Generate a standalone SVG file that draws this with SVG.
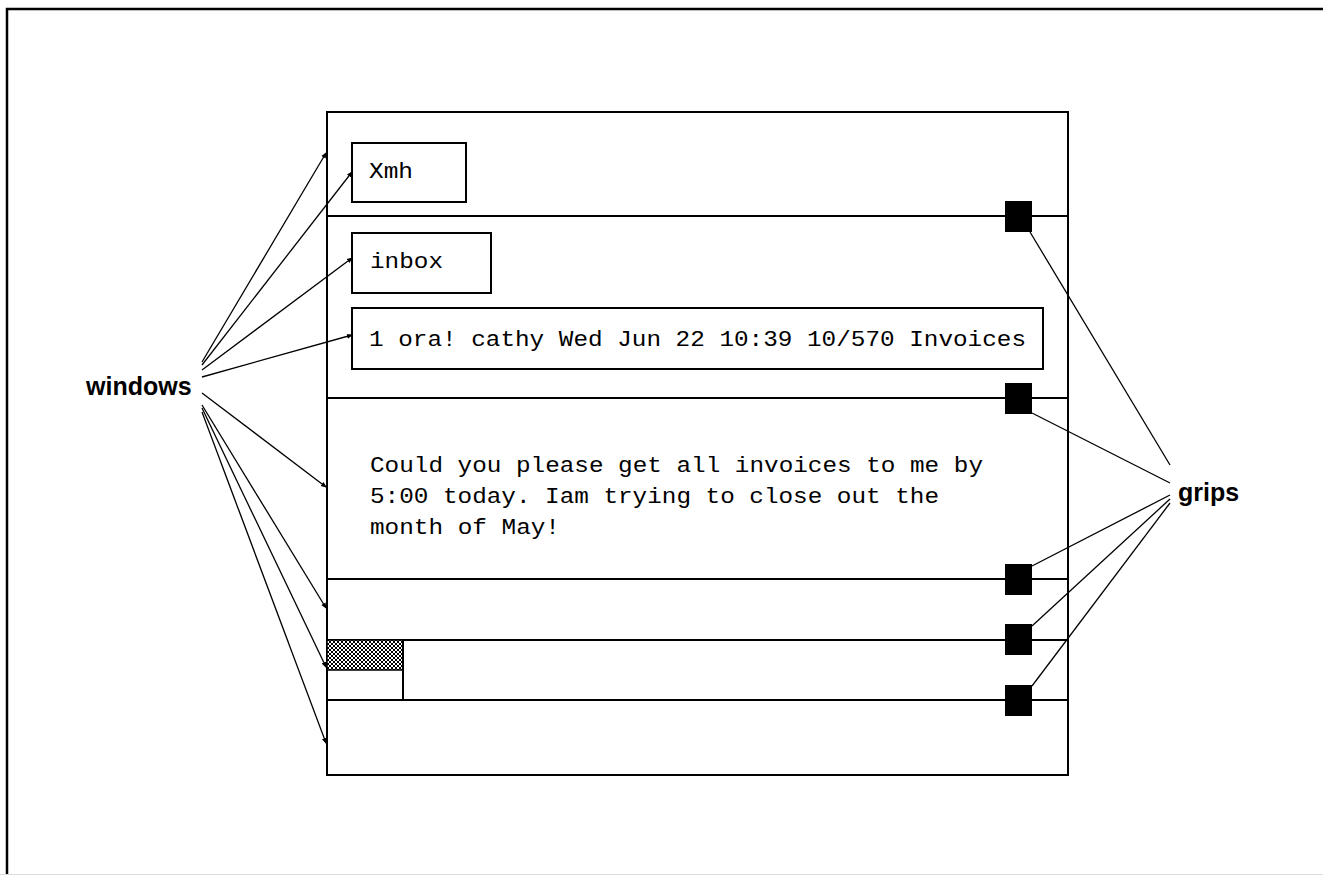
<svg xmlns="http://www.w3.org/2000/svg" width="1323" height="875" viewBox="0 0 1323 875">
<style>
.frame{fill:none;stroke:#000;stroke-width:2.5}
.box{fill:none;stroke:#000;stroke-width:2}
.div{stroke:#000;stroke-width:2}
.grip{fill:#000}
.mono{font-family:"Liberation Mono","DejaVu Sans Mono",monospace;font-size:22px;fill:#000}
.lbl{font-family:"Liberation Sans",Arial,sans-serif;font-weight:bold;font-size:25px;fill:#000}
.conn{stroke:#000;stroke-width:1.3;fill:none}
</style>
<defs>
<marker id="arr" markerWidth="6" markerHeight="6" refX="5" refY="3" orient="auto" markerUnits="userSpaceOnUse">
<path d="M0,0.5 L6,3 L0,5.5 Z" fill="#000"/>
</marker>
<pattern id="hatch" width="4" height="4" patternUnits="userSpaceOnUse">
<rect width="4" height="4" fill="#fff"/>
<path d="M0,0 L4,4 M4,0 L0,4" stroke="#000" stroke-width="1"/>
</pattern>
</defs>
<rect width="1323" height="875" fill="#fff"/>
<path d="M7,875 L7,9 L1323,9" class="frame"/>
<line x1="0" y1="874.5" x2="1323" y2="874.5" stroke="#ddd" stroke-width="1"/>

<g id="main-window">
<rect x="327" y="112" width="741" height="663" class="box"/>
<line x1="327" y1="216" x2="1068" y2="216" class="div"/>
<line x1="327" y1="398" x2="1068" y2="398" class="div"/>
<line x1="327" y1="579" x2="1068" y2="579" class="div"/>
<line x1="327" y1="640" x2="1068" y2="640" class="div"/>
<line x1="327" y1="700" x2="1068" y2="700" class="div"/>
</g>

<g id="scrollbar">
<rect x="327" y="640" width="76" height="30" fill="url(#hatch)" stroke="#000" stroke-width="1.5"/>
<line x1="403" y1="640" x2="403" y2="700" class="div"/>
</g>

<g id="xmh-button">
<rect x="352" y="143" width="114" height="59" class="box"/>
<text x="369" y="178" class="mono" textLength="44" lengthAdjust="spacingAndGlyphs">Xmh</text>
</g>

<g id="inbox-button">
<rect x="352" y="233" width="139" height="60" class="box"/>
<text x="370" y="268" class="mono" textLength="73" lengthAdjust="spacingAndGlyphs">inbox</text>
</g>

<g id="toc-line">
<rect x="352" y="308" width="691" height="61" class="box"/>
<text x="369" y="346" class="mono" textLength="657" lengthAdjust="spacingAndGlyphs">1 ora! cathy Wed Jun 22 10:39 10/570 Invoices</text>
</g>

<g id="message-body">
<text x="370" y="472" class="mono" textLength="613" lengthAdjust="spacingAndGlyphs">Could you please get all invoices to me by</text>
<text x="370" y="503" class="mono" textLength="569" lengthAdjust="spacingAndGlyphs">5:00 today. Iam trying to close out the</text>
<text x="370" y="534" class="mono" textLength="190" lengthAdjust="spacingAndGlyphs">month of May!</text>
</g>

<g id="grip-1"><rect x="1005" y="201" width="27" height="31" class="grip"/></g>
<g id="grip-2"><rect x="1005" y="383" width="27" height="31" class="grip"/></g>
<g id="grip-3"><rect x="1005" y="564" width="27" height="31" class="grip"/></g>
<g id="grip-4"><rect x="1005" y="624" width="27" height="31" class="grip"/></g>
<g id="grip-5"><rect x="1005" y="685" width="27" height="31" class="grip"/></g>

<g id="windows-label"><text x="86" y="395" class="lbl">windows</text></g>
<g id="grips-label"><text x="1178" y="501" class="lbl">grips</text></g>

<g id="connectors">
<line x1="202" y1="362" x2="326" y2="153" class="conn" marker-end="url(#arr)"/>
<line x1="202" y1="365" x2="352" y2="172" class="conn" marker-end="url(#arr)"/>
<line x1="202" y1="370" x2="352" y2="258" class="conn" marker-end="url(#arr)"/>
<line x1="202" y1="377" x2="352" y2="335" class="conn" marker-end="url(#arr)"/>
<line x1="202" y1="393" x2="326" y2="487" class="conn" marker-end="url(#arr)"/>
<line x1="202" y1="405" x2="326" y2="608" class="conn" marker-end="url(#arr)"/>
<line x1="202" y1="408" x2="326" y2="667" class="conn" marker-end="url(#arr)"/>
<line x1="202" y1="412" x2="326" y2="743" class="conn" marker-end="url(#arr)"/>
<line x1="1030" y1="232" x2="1170" y2="465" class="conn"/>
<line x1="1032" y1="413" x2="1170" y2="483" class="conn"/>
<line x1="1032" y1="566" x2="1170" y2="495" class="conn"/>
<line x1="1032" y1="626" x2="1170" y2="499" class="conn"/>
<line x1="1032" y1="686" x2="1170" y2="503" class="conn"/>
</g>
</svg>
